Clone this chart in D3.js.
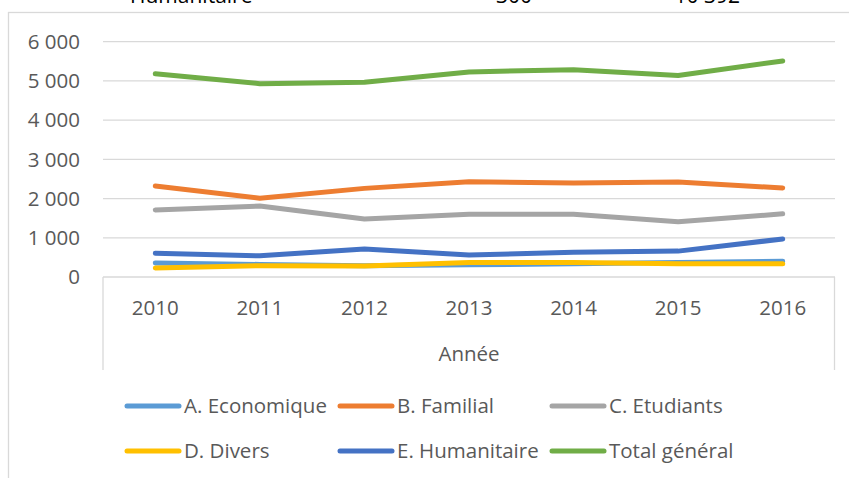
<!DOCTYPE html>
<html>
<head>
<meta charset="utf-8">
<script src="https://cdn.jsdelivr.net/npm/d3@7"></script>
<style>
  body { margin: 0; background: #fff; }
  svg { display: block; font-family: "Open Sans", sans-serif; }
</style>
</head>
<body>
<script>
let annees = ["2010", "2011", "2012", "2013", "2014", "2015", "2016"];
let economique = [360, 320, 290, 310, 340, 370, 400];
let familial = [2320, 2010, 2260, 2430, 2400, 2420, 2270];
let etudiants = [1710, 1810, 1480, 1600, 1600, 1410, 1610];
let divers = [230, 290, 280, 370, 370, 340, 340];
let humanitaire = [605, 540, 715, 560, 630, 660, 970];
let total = [5180, 4930, 4965, 5230, 5285, 5140, 5510];
let ticksY = [0, 1000, 2000, 3000, 4000, 5000, 6000];

let series = [
  { nom: "A. Economique", valeurs: economique, couleur: "#5B9BD5" },
  { nom: "B. Familial", valeurs: familial, couleur: "#ED7D31" },
  { nom: "C. Etudiants", valeurs: etudiants, couleur: "#A5A5A5" },
  { nom: "D. Divers", valeurs: divers, couleur: "#FFC000" },
  { nom: "E. Humanitaire", valeurs: humanitaire, couleur: "#4472C4" },
  { nom: "Total général", valeurs: total, couleur: "#70AD47" },
];

function graficar() {
  let w = 849;
  let h = 478;
  let gris = "#D9D9D9";
  let texte = "#595959";

  let svg = d3.select("body").append("svg").attr("width", w).attr("height", h);

  // bout de tableau coupé au-dessus du graphique
  svg.append("g")
    .attr("font-size", 21)
    .attr("fill", "#000")
    .selectAll("text")
    .data([["Humanitaire", 130, "start"], ["300", 532, "end"], ["10 392", 740, "end"]])
    .enter()
    .append("text")
    .attr("x", (d) => d[1])
    .attr("y", 3)
    .attr("text-anchor", (d) => d[2])
    .text((d) => d[0]);

  // cadre
  svg.append("rect")
    .attr("x", 8.5).attr("y", 12.5)
    .attr("width", 900).attr("height", 600)
    .attr("fill", "none").attr("stroke", gris).attr("stroke-width", 1.3);

  let x = d3.scalePoint().domain(annees).range([103, 835]).padding(0.5);
  let y = d3.scaleLinear().domain([0, 6000]).range([277, 41.7]);

  // grille
  svg.append("g")
    .selectAll("line")
    .data(ticksY)
    .enter()
    .append("line")
    .attr("x1", 103).attr("x2", 835)
    .attr("y1", (d) => y(d)).attr("y2", (d) => y(d))
    .attr("stroke", gris).attr("stroke-width", 1.3);

  // étiquettes de l'axe Y
  svg.append("g")
    .attr("font-size", 20.5)
    .attr("fill", texte)
    .selectAll("text")
    .data(ticksY)
    .enter()
    .append("text")
    .attr("x", 80)
    .attr("y", (d) => y(d))
    .attr("dy", "0.35em")
    .attr("text-anchor", "end")
    .text((d) => d3.format(",")(d).replace(/,/g, " "));

  // boîte de l'axe X
  svg.append("g")
    .selectAll("line")
    .data([103, 834.5])
    .enter()
    .append("line")
    .attr("x1", (d) => d).attr("x2", (d) => d)
    .attr("y1", 277).attr("y2", 370)
    .attr("stroke", gris).attr("stroke-width", 1.3);

  svg.append("g")
    .attr("font-size", 20.5)
    .attr("fill", texte)
    .selectAll("text")
    .data(annees)
    .enter()
    .append("text")
    .attr("x", (d) => x(d))
    .attr("y", 308)
    .attr("dy", "0.35em")
    .attr("text-anchor", "middle")
    .text((d) => d);

  svg.append("text")
    .attr("x", 469).attr("y", 354).attr("dy", "0.35em")
    .attr("text-anchor", "middle")
    .attr("font-size", 20.5).attr("fill", texte)
    .text("Année");

  // courbes
  let ligne = d3.line()
    .x((d, i) => x(annees[i]))
    .y((d) => y(d));

  svg.append("g")
    .selectAll("path")
    .data(series)
    .enter()
    .append("path")
    .attr("d", (d) => ligne(d.valeurs))
    .attr("fill", "none")
    .attr("stroke", (d) => d.couleur)
    .attr("stroke-width", 5)
    .attr("stroke-linecap", "round")
    .attr("stroke-linejoin", "round");

  // légende
  let colonnes = [125, 338, 550];
  let rangees = [406, 451];
  let leg = svg.append("g")
    .selectAll("g")
    .data(series)
    .enter()
    .append("g")
    .attr("transform", (d, i) => "translate(" + colonnes[i % 3] + "," + rangees[Math.floor(i / 3)] + ")");

  leg.append("line")
    .attr("x1", 2).attr("x2", 54)
    .attr("stroke", (d) => d.couleur)
    .attr("stroke-width", 5)
    .attr("stroke-linecap", "round");

  leg.append("text")
    .attr("x", 59)
    .attr("dy", "0.35em")
    .attr("font-size", 20.5)
    .attr("fill", texte)
    .text((d) => d.nom);
}

graficar();
</script>
</body>
</html>
